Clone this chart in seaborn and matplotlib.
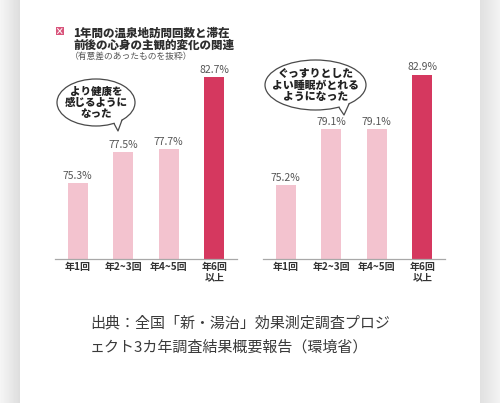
import numpy as np
import pandas as pd
import matplotlib
matplotlib.use("Agg")
import matplotlib.pyplot as plt
import seaborn as sns
from matplotlib.patches import Ellipse, Polygon, Rectangle

# ----- DONNÉES -----
categories = ["年1回", "年2~3回", "年4~5回", "年6回\n以上"]
health_vals = [75.3, 77.5, 77.7, 82.7]   # より健康を感じるようになった
sleep_vals = [75.2, 79.1, 79.1, 82.9]    # ぐっすりとしたよい睡眠がとれるようになった
bar_colors = ["#f3c3cf", "#f3c3cf", "#f3c3cf", "#d5385f"]

title_lines = ["1年間の温泉地訪問回数と滞在", "前後の心身の主観的変化の関連"]
subtitle = "（有意差のあったものを抜粋）"
bubble_left = "より健康を\n感じるように\nなった"
bubble_right = "ぐっすりとした\nよい睡眠がとれる\nようになった"
source_lines = ["出典：全国「新・湯治」効果測定調査プロジ",
                "ェクト3カ年調査結果概要報告（環境省）"]

# ----- STYLE -----
sns.set_theme(style="white")
plt.rcParams["font.family"] = ["Noto Sans CJK JP", "DejaVu Sans"]

W, H = 500, 403
fig = plt.figure(figsize=(W / 100, H / 100), dpi=100)
fig.patch.set_facecolor("white")

# fond : bandes grises à gauche et à droite (pixels)
bg = fig.add_axes([0, 0, 1, 1], zorder=0)
bg.axis("off")
left_grad = np.linspace(0.96, 0.87, 20)[None, :]
bg.imshow(left_grad, extent=(0, 20, H, 0), cmap="gray", vmin=0, vmax=1, aspect="auto")
right_grad = np.linspace(0.88, 0.95, 20)[None, :]
bg.imshow(right_grad, extent=(480, 500, H, 0), cmap="gray", vmin=0, vmax=1, aspect="auto")
bg.set_xlim(0, W)
bg.set_ylim(H, 0)


def px_axes(x0, x1, y_bottom, y_top):
    return fig.add_axes([x0 / W, (H - y_bottom) / H, (x1 - x0) / W, (y_bottom - y_top) / H], zorder=2)


ymin, ymax = 70, 84
for vals, x0 in [(health_vals, 55), (sleep_vals, 263)]:
    ax = px_axes(x0, x0 + 182, 259, 259 - (ymax - ymin) * 14.3)
    ax.patch.set_alpha(0)
    df = pd.DataFrame({"cat": categories, "val": vals})
    sns.barplot(data=df, x="cat", y="val", hue="cat", palette=bar_colors,
                legend=False, ax=ax, width=0.45, saturation=1, linewidth=0)
    for c in ax.containers:
        ax.bar_label(c, fmt="%.1f%%", padding=1.5, fontsize=7.5, color="#555555")
    ax.set_ylim(ymin, ymax)
    ax.set_xlim(-0.5, 3.5)
    ax.set_xlabel("")
    ax.set_ylabel("")
    ax.set_yticks([])
    for s in ["left", "right", "top"]:
        ax.spines[s].set_visible(False)
    ax.spines["bottom"].set_color("#a8a8a8")
    ax.spines["bottom"].set_linewidth(0.9)
    ax.tick_params(axis="x", length=0, pad=2.5, labelsize=7.2, labelcolor="#333333")
    for lab in ax.get_xticklabels():
        lab.set_fontweight("bold")
        lab.set_linespacing(1.0)

# calque supérieur pour les bulles et les textes
top = fig.add_axes([0, 0, 1, 1], zorder=5)
top.patch.set_alpha(0)
top.set_xlim(0, W)
top.set_ylim(H, 0)
top.axis("off")

# icône du titre
top.add_patch(Rectangle((56, 27), 7.5, 8, facecolor="#d9557c", edgecolor="none"))
top.plot([57.5, 62], [33.5, 28.5], color="white", lw=0.7)
top.plot([57.5, 62], [28.5, 33.5], color="white", lw=0.7)

top.text(73, 33, title_lines[0], fontsize=8.3, fontweight="heavy", color="#2e2e2e", va="center")
top.text(73, 44.5, title_lines[1], fontsize=8.3, fontweight="heavy", color="#2e2e2e", va="center")
top.text(70, 56, subtitle, fontsize=6.3, color="#555555", va="center")


def bubble(cx, cy, w, h, tail, text, fs, ls):
    e = Ellipse((cx, cy), w, h, facecolor="white", edgecolor="#4a4a4a", lw=0.9, zorder=1)
    top.add_patch(e)
    (bx1, by1), (tx, ty), (bx2, by2) = tail
    top.add_patch(Polygon([(bx1, by1 - 2), (tx, ty), (bx2, by2 - 2)], closed=True,
                          facecolor="white", edgecolor="none", zorder=2))
    top.plot([bx1, tx, bx2], [by1, ty, by2], color="#4a4a4a", lw=0.9, zorder=3)
    top.text(cx, cy + 0.5, text, fontsize=fs, fontweight="heavy", color="#222222",
             ha="center", va="center", linespacing=ls, zorder=4)


bubble(96, 102.5, 78, 47, [(114, 123.5), (118, 131), (122, 120)], bubble_left, 7.6, 1.15)
bubble(315.5, 85, 101, 50, [(339, 107.5), (344, 115), (349, 104)], bubble_right, 7.8, 1.2)

top.text(90, 323, source_lines[0], fontsize=10.8, color="#3a3a3a", va="center")
top.text(90, 347, source_lines[1], fontsize=10.8, color="#3a3a3a", va="center")

fig.savefig("out.png", dpi=100, facecolor="white")
